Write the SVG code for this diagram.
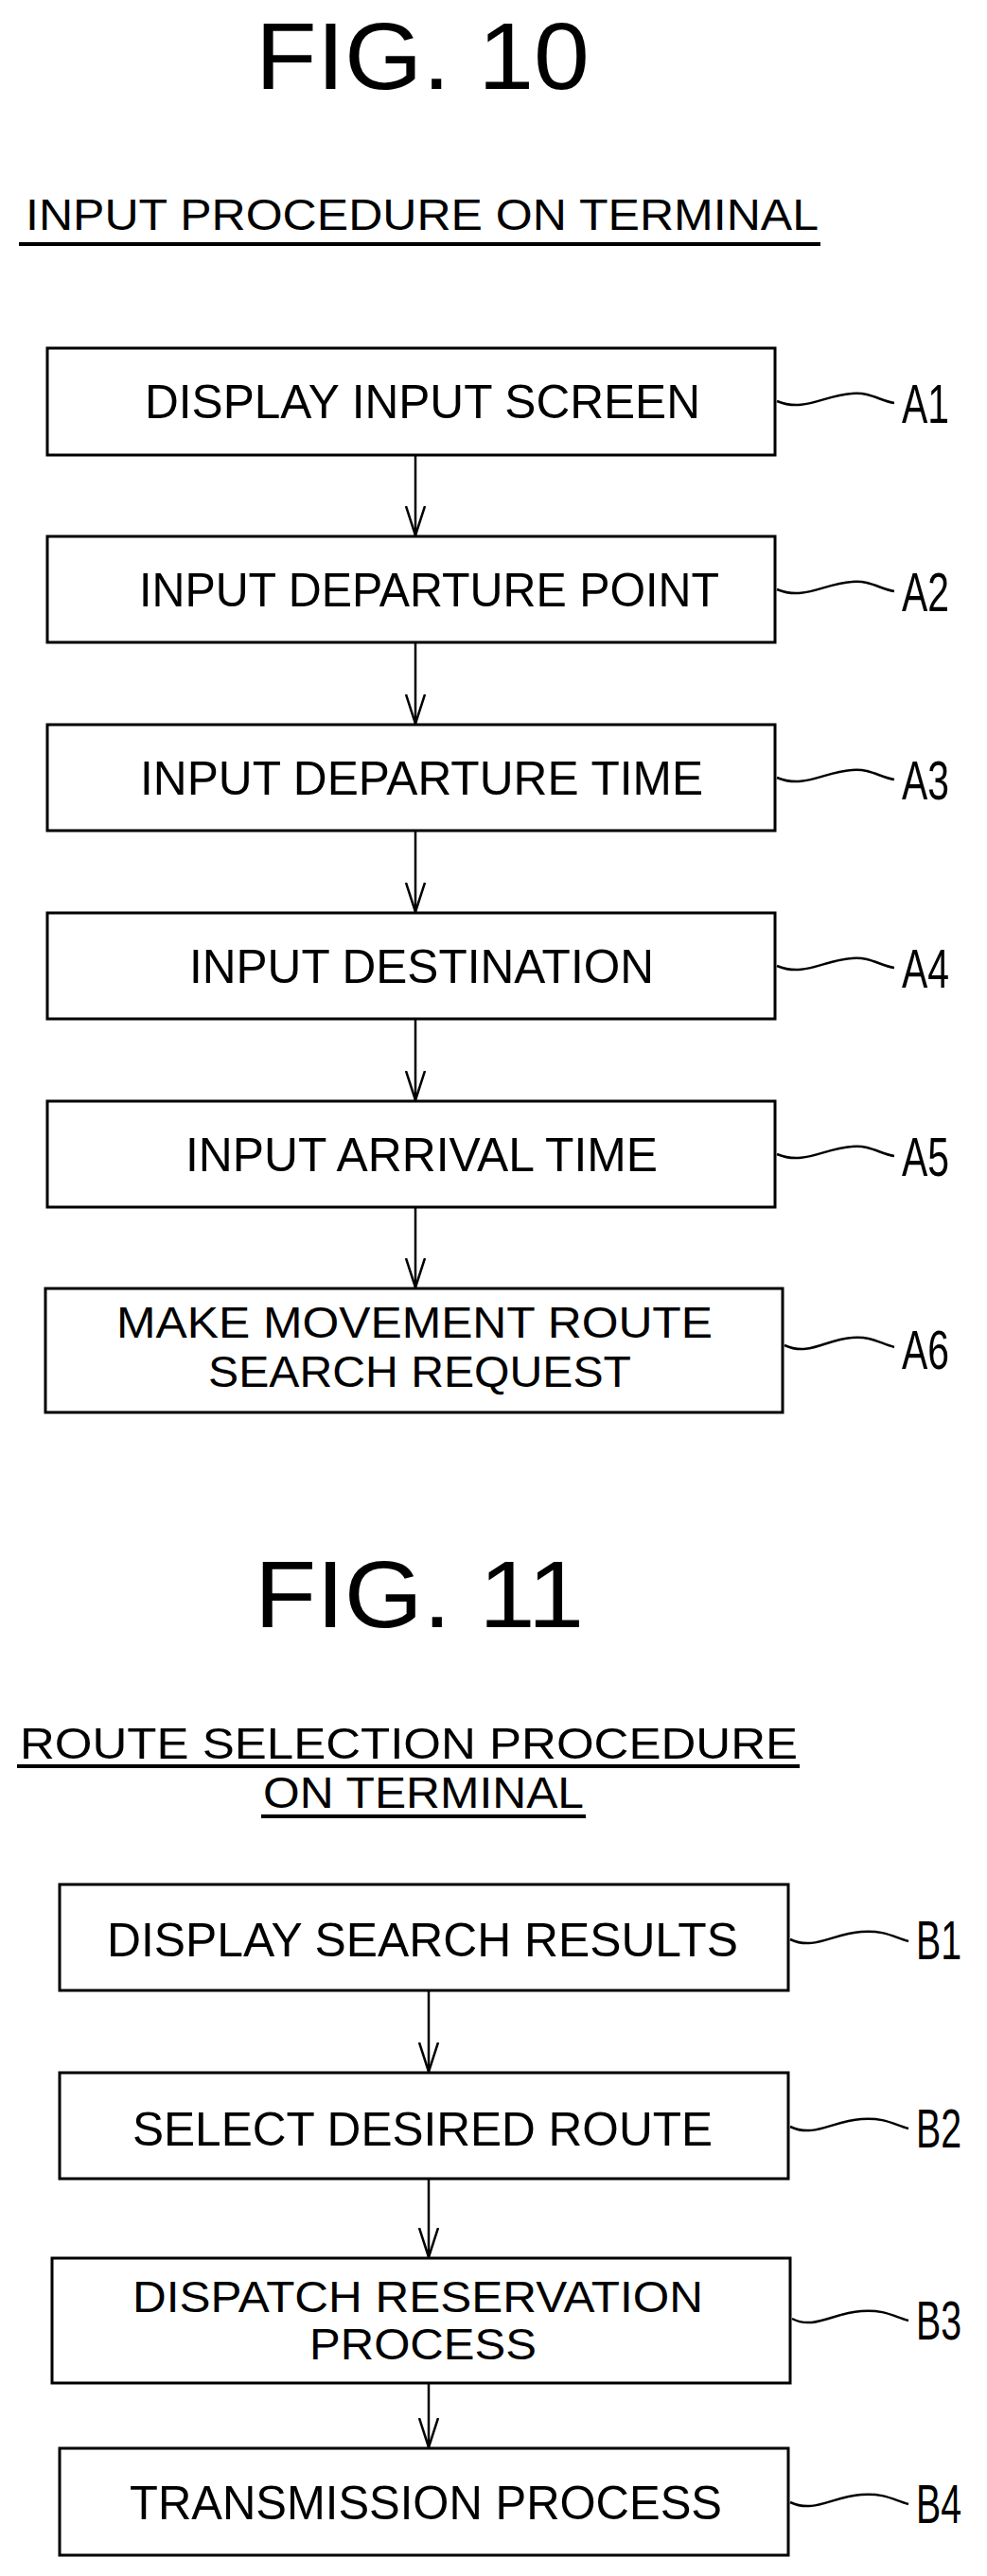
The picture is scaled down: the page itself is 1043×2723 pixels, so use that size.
<svg xmlns="http://www.w3.org/2000/svg" width="1043" height="2723" viewBox="0 0 1043 2723">
<defs>
<style>
.b{fill:#fff;stroke:#000;stroke-width:3}
.t{font-family:"Liberation Sans",Arial,sans-serif;font-size:50px;fill:#000}
.s{font-family:"Liberation Sans",Arial,sans-serif;font-size:46px;fill:#000}
.f{font-family:"Liberation Sans",Arial,sans-serif;font-size:100px;fill:#000}
.l{font-family:"Liberation Sans",Arial,sans-serif;font-size:58px;fill:#000}
.w{fill:none;stroke:#000;stroke-width:2.5}
.c{fill:none;stroke:#000;stroke-width:2.5}
</style>
<marker id="ah" viewBox="0 0 32 22" refX="31" refY="11" markerWidth="32" markerHeight="22" markerUnits="userSpaceOnUse" orient="auto">
<path d="M0,1 L31,11 L0,21" fill="none" stroke="#000" stroke-width="2.5"/>
</marker>
</defs>
<rect width="1043" height="2723" fill="#fff"/>
<text class="f" x="270" y="94" textLength="353" lengthAdjust="spacingAndGlyphs">FIG. 10</text>
<text class="s" x="27" y="243" textLength="838" lengthAdjust="spacingAndGlyphs">INPUT PROCEDURE ON TERMINAL</text>
<line x1="20" y1="258" x2="867" y2="258" stroke="#000" stroke-width="4"/>
<text class="f" x="269" y="1720" textLength="348" lengthAdjust="spacingAndGlyphs">FIG. 11</text>
<text class="s" x="21" y="1859" textLength="822" lengthAdjust="spacingAndGlyphs">ROUTE SELECTION PROCEDURE</text>
<line x1="18" y1="1867" x2="845" y2="1867" stroke="#000" stroke-width="4"/>
<text class="s" x="278" y="1911" textLength="339" lengthAdjust="spacingAndGlyphs">ON TERMINAL</text>
<line x1="276" y1="1920" x2="619" y2="1920" stroke="#000" stroke-width="4"/>
<g id="connectors">
<line class="c" x1="439" y1="481" x2="439" y2="566" marker-end="url(#ah)"/>
<line class="c" x1="439" y1="679" x2="439" y2="765" marker-end="url(#ah)"/>
<line class="c" x1="439" y1="878" x2="439" y2="964" marker-end="url(#ah)"/>
<line class="c" x1="439" y1="1077" x2="439" y2="1163" marker-end="url(#ah)"/>
<line class="c" x1="439" y1="1276" x2="439" y2="1361" marker-end="url(#ah)"/>
<line class="c" x1="453" y1="2104" x2="453" y2="2190" marker-end="url(#ah)"/>
<line class="c" x1="453" y1="2303" x2="453" y2="2386" marker-end="url(#ah)"/>
<line class="c" x1="453" y1="2519" x2="453" y2="2587" marker-end="url(#ah)"/>
</g>
<g id="A1"><rect class="b" x="50" y="368" width="769" height="113"/><text class="t" x="153" y="442" textLength="587" lengthAdjust="spacingAndGlyphs">DISPLAY INPUT SCREEN</text><path class="w" d="M821,424 C850,436 870,418 900,416 C920,414 930,424 945,426"/><text class="l" x="953" y="447" textLength="50" lengthAdjust="spacingAndGlyphs">A1</text></g>
<g id="A2"><rect class="b" x="50" y="567" width="769" height="112"/><text class="t" x="147" y="641" textLength="613" lengthAdjust="spacingAndGlyphs">INPUT DEPARTURE POINT</text><path class="w" d="M821,623 C850,635 870,617 900,615 C920,613 930,623 945,625"/><text class="l" x="953" y="646" textLength="50" lengthAdjust="spacingAndGlyphs">A2</text></g>
<g id="A3"><rect class="b" x="50" y="766" width="769" height="112"/><text class="t" x="148" y="840" textLength="595" lengthAdjust="spacingAndGlyphs">INPUT DEPARTURE TIME</text><path class="w" d="M821,822 C850,834 870,816 900,814 C920,812 930,822 945,824"/><text class="l" x="953" y="845" textLength="50" lengthAdjust="spacingAndGlyphs">A3</text></g>
<g id="A4"><rect class="b" x="50" y="965" width="769" height="112"/><text class="t" x="200" y="1039" textLength="491" lengthAdjust="spacingAndGlyphs">INPUT DESTINATION</text><path class="w" d="M821,1021 C850,1033 870,1015 900,1013 C920,1011 930,1021 945,1023"/><text class="l" x="953" y="1044" textLength="50" lengthAdjust="spacingAndGlyphs">A4</text></g>
<g id="A5"><rect class="b" x="50" y="1164" width="769" height="112"/><text class="t" x="196" y="1238" textLength="499" lengthAdjust="spacingAndGlyphs">INPUT ARRIVAL TIME</text><path class="w" d="M821,1220 C850,1232 870,1214 900,1212 C920,1210 930,1220 945,1222"/><text class="l" x="953" y="1243" textLength="50" lengthAdjust="spacingAndGlyphs">A5</text></g>
<g id="A6"><rect class="b" x="48" y="1362" width="779" height="131"/><text class="s" x="123" y="1414" textLength="630" lengthAdjust="spacingAndGlyphs">MAKE MOVEMENT ROUTE</text><text class="s" x="220" y="1466" textLength="447" lengthAdjust="spacingAndGlyphs">SEARCH REQUEST</text><path class="w" d="M829,1422 C855,1434 872,1416 900,1414 C920,1412 930,1420 945,1424"/><text class="l" x="953" y="1447" textLength="50" lengthAdjust="spacingAndGlyphs">A6</text></g>
<g id="B1"><rect class="b" x="63" y="1992" width="770" height="112"/><text class="t" x="113" y="2068" textLength="667" lengthAdjust="spacingAndGlyphs">DISPLAY SEARCH RESULTS</text><path class="w" d="M835,2050 C860,2062 880,2044 910,2042 C935,2040 945,2048 960,2052"/><text class="l" x="968" y="2071" textLength="48" lengthAdjust="spacingAndGlyphs">B1</text></g>
<g id="B2"><rect class="b" x="63" y="2191" width="770" height="112"/><text class="t" x="140" y="2268" textLength="613" lengthAdjust="spacingAndGlyphs">SELECT DESIRED ROUTE</text><path class="w" d="M835,2248 C860,2260 880,2242 910,2240 C935,2238 945,2246 960,2250"/><text class="l" x="968" y="2270" textLength="48" lengthAdjust="spacingAndGlyphs">B2</text></g>
<g id="B3"><rect class="b" x="55" y="2387" width="780" height="132"/><text class="s" x="140" y="2444" textLength="603" lengthAdjust="spacingAndGlyphs">DISPATCH RESERVATION</text><text class="s" x="327" y="2494" textLength="240" lengthAdjust="spacingAndGlyphs">PROCESS</text><path class="w" d="M837,2451 C860,2463 880,2445 910,2443 C935,2441 945,2449 960,2453"/><text class="l" x="968" y="2473" textLength="48" lengthAdjust="spacingAndGlyphs">B3</text></g>
<g id="B4"><rect class="b" x="63" y="2588" width="770" height="113"/><text class="t" x="137" y="2663" textLength="626" lengthAdjust="spacingAndGlyphs">TRANSMISSION PROCESS</text><path class="w" d="M835,2645 C860,2657 880,2639 910,2637 C935,2635 945,2643 960,2647"/><text class="l" x="968" y="2667" textLength="48" lengthAdjust="spacingAndGlyphs">B4</text></g>
</svg>
